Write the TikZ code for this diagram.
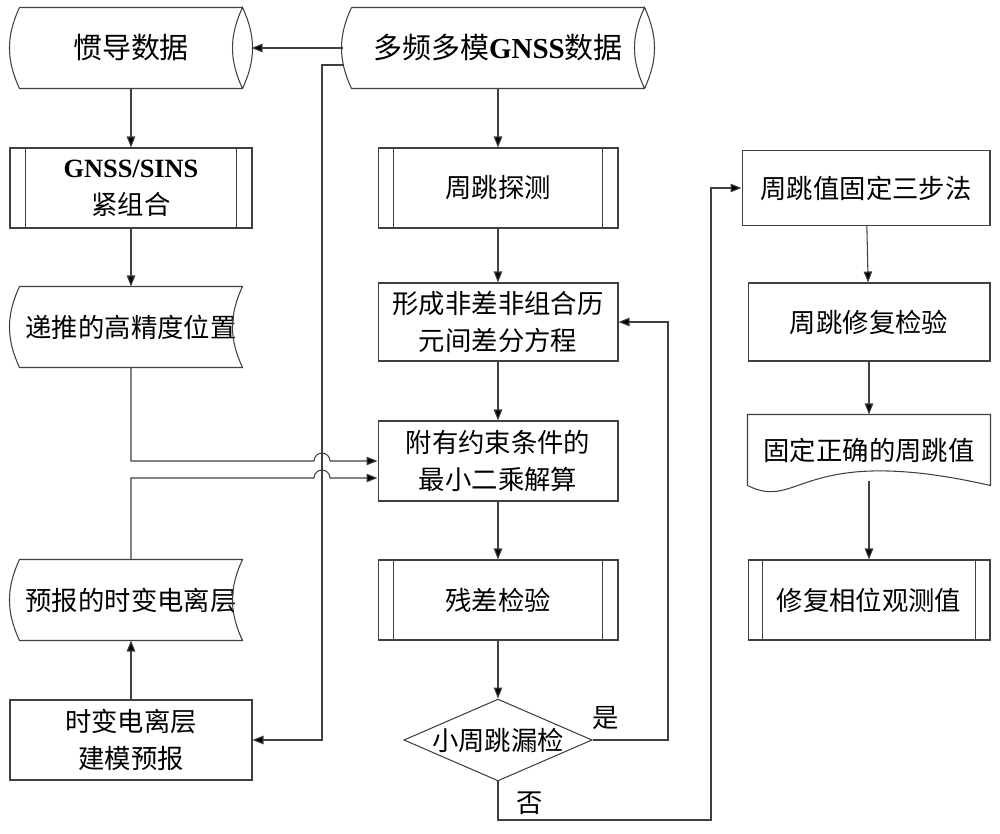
\documentclass[tikz,border=0pt]{standalone}
\usepackage{fontspec}
\setmainfont{Liberation Serif}
\newfontfamily\cjk{Noto Sans CJK SC}
\usetikzlibrary{arrows.meta,shapes.geometric}
\tikzset{
  line/.style={draw=black!75,line width=0.6pt},
  arr/.style={line,-{Triangle[length=0.22cm,width=0.17cm,fill=black]}},
  box/.style={line,rectangle,minimum height=1.6cm,inner sep=0pt,align=center,
    font=\cjk\fontsize{15}{21}\selectfont},
  blank/.style={box,draw=none},
  choice/.style={box,diamond,minimum width=3.7cm,minimum height=1.6cm,aspect=2.3}
}
% outlines of the special boxes
\newcommand\procbars[2]{%
  \draw[line] ([xshift=#2]#1.north west) -- ([xshift=#2]#1.south west);
  \draw[line] ([xshift=-#2]#1.north east) -- ([xshift=-#2]#1.south east);}
\newcommand\drum[1]{%
  \draw[line] (#1.north west) to[bend right=25] (#1.south west) -- (#1.south east)
    to[bend right=25] (#1.north east) to[bend right=25] (#1.south east)
    (#1.north east) -- (#1.north west);}
\newcommand\stored[1]{%
  \draw[line] (#1.north west) to[bend right=25] (#1.south west) -- (#1.south east)
    to[bend left=25] (#1.north east) -- cycle;}
\begin{document}
\begin{tikzpicture}[x=0.02cm,y=-0.02cm]
  \useasboundingbox (0,0) rectangle (1000,834);

  \node[blank,minimum width=4.44cm,font=\cjk\fontsize{16.5}{21}\selectfont] (ins) at (131,48) {惯导数据};
  \node[blank,minimum width=5.84cm,font=\cjk\fontsize{16.5}{21}\selectfont] (gnss) at (498,48) {多频多模{\rmfamily\bfseries GNSS}数据};
  \drum{ins} \drum{gnss}
  \node[box,minimum width=4.84cm] (sins) at (131,188) {{\rmfamily\bfseries GNSS/SINS}\\紧组合};
  \procbars{sins}{0.32cm}
  \node[blank,minimum width=4.44cm] (pos) at (131,327) {递推的高精度位置};
  \stored{pos}
  \node[blank,minimum width=4.44cm] (ion) at (131,600) {预报的时变电离层};
  \stored{ion}
  \node[box,minimum width=4.84cm] (model) at (131,740) {时变电离层\\建模预报};

  \node[box,minimum width=4.8cm] (detect) at (498,188) {周跳探测};
  \procbars{detect}{0.32cm}
  \node[box,minimum width=4.8cm,minimum height=1.56cm] (eq) at (498,322) {形成非差非组合历\\元间差分方程};
  \node[box,minimum width=4.8cm] (lsq) at (498,461) {附有约束条件的\\最小二乘解算};
  \node[box,minimum width=4.8cm] (resid) at (498,600) {残差检验};
  \procbars{resid}{0.32cm}
  \node[choice] (slip) at (498,740) {小周跳漏检};

  \node[box,minimum width=4.96cm,minimum height=1.5cm] (three) at (866,188) {周跳值固定三步法};
  \node[box,minimum width=4.84cm,minimum height=1.56cm] (check) at (869,322) {周跳修复检验};
  \node[blank,minimum width=4.84cm,minimum height=1.4cm] (fixed) at (869,450) {固定正确的周跳值};
  \draw[line] (fixed.south west) -- (fixed.north west) -- (fixed.north east) -- (fixed.south east)
    .. controls (800,442) and (800,512) .. (fixed.south west);
  \node[box,minimum width=4.84cm] (repair) at (869,600) {修复相位观测值};
  \procbars{repair}{0.3cm}

  \draw[arr] ([xshift=-0.18cm]gnss.west) -- ([xshift=0.18cm]ins.east);
  \coordinate (bus) at (322,740);
  \draw[arr] ([xshift=-0.16cm,yshift=-0.34cm]gnss.west) -| (bus) -- (model.east);
  \draw[arr] (ins) -- (sins);
  \draw[arr] (sins) -- (pos);
  \draw[arr] (pos.south) |- (314,461) arc[start angle=180,end angle=0,radius=0.16cm] -- (lsq.west);
  \draw[arr] (ion.north) |- (314,478) arc[start angle=180,end angle=0,radius=0.16cm]
    -- ([yshift=-0.34cm]lsq.west);
  \draw[arr] (model) -- (ion);

  \draw[arr] (gnss) -- (detect);
  \draw[arr] (detect) -- (eq);
  \draw[arr] (eq) -- (lsq);
  \draw[arr] (lsq) -- (resid);
  \draw[arr] (resid) -- (slip);
  \draw[arr] (slip.east) -- (668,740) |- (eq.east);
  \draw[arr] (slip.south) |- (711,820) |- (three.west);
  \node[font=\cjk\fontsize{15}{18}\selectfont] (yes) at (606,718) {是};
  \node[font=\cjk\fontsize{15}{18}\selectfont] (no) at (530,803) {否};

  \draw[arr] (three) -- (check);
  \draw[arr] (check) -- (fixed);
  \draw[arr] (fixed.south) ++(0,0.1cm) -- (repair.north);
\end{tikzpicture}
\end{document}
